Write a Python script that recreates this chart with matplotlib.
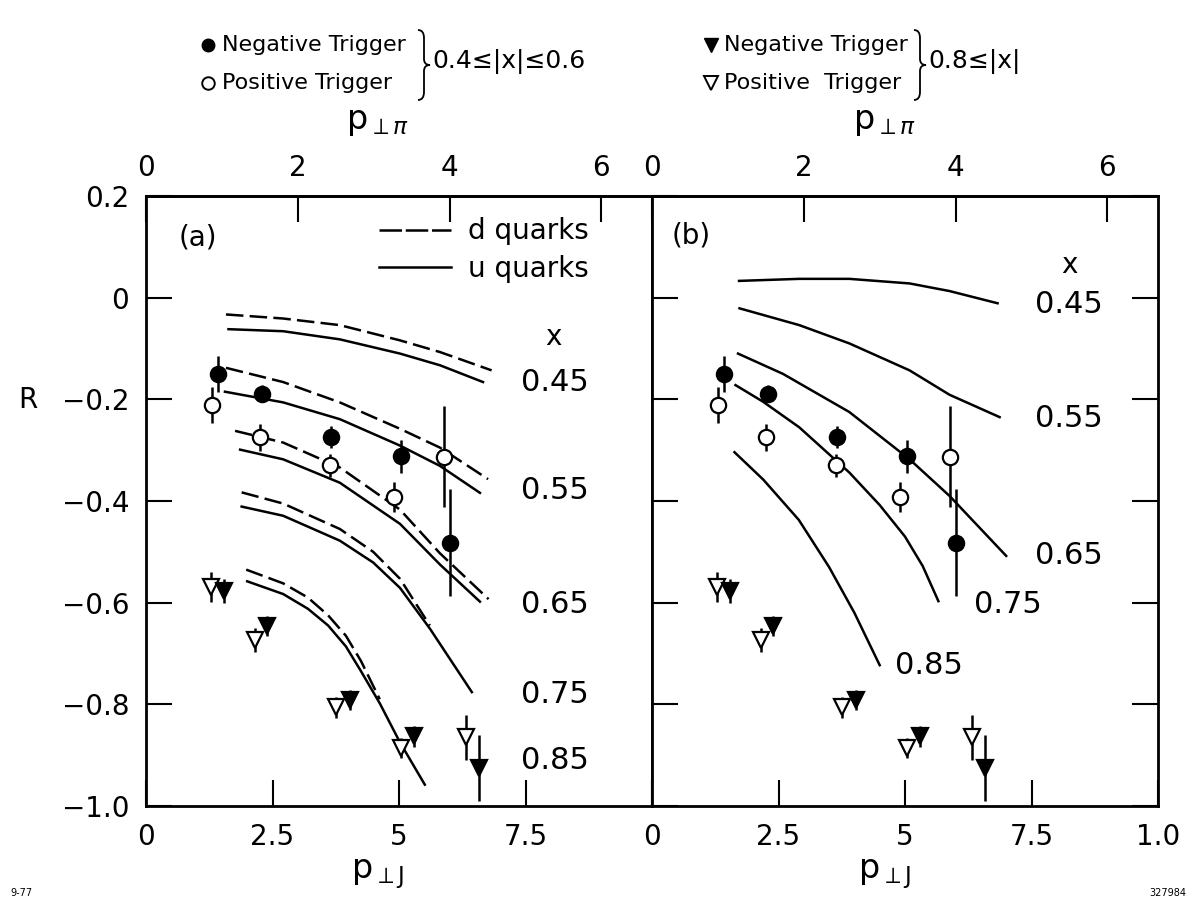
import matplotlib
matplotlib.use('Agg')
import matplotlib.pyplot as plt
from matplotlib.lines import Line2D
from matplotlib.path import Path
from matplotlib.patches import PathPatch
from matplotlib.ticker import FixedLocator, FixedFormatter

plt.rcParams['font.family'] = ['DejaVu Sans']
plt.rcParams['mathtext.fontset'] = 'dejavusans'

# ---------------- data ----------------
# 0.4 <= |x| <= 0.6
neg_mid_x = [1.43, 2.30, 3.66, 5.03, 6.00]
neg_mid_R = [-0.150, -0.189, -0.274, -0.312, -0.482]
neg_mid_err = [0.036, 0.017, 0.021, 0.032, 0.105]
pos_mid_x = [1.30, 2.26, 3.64, 4.91, 5.89]
pos_mid_R = [-0.211, -0.275, -0.330, -0.392, -0.313]
pos_mid_err = [0.035, 0.026, 0.022, 0.030, 0.099]
# 0.8 <= |x|
neg_high_x = [1.54, 2.40, 4.04, 5.29, 6.59]
neg_high_R = [-0.577, -0.646, -0.791, -0.863, -0.925]
neg_high_err = [0.023, 0.020, 0.020, 0.020, 0.065]
pos_high_x = [1.29, 2.16, 3.75, 5.03, 6.33]
pos_high_R = [-0.569, -0.673, -0.806, -0.886, -0.865]
pos_high_err = [0.030, 0.024, 0.020, 0.020, 0.045]

# panel (a) model curves
a_d045_x = [1.58, 2.71, 3.83, 5.02, 5.81, 6.83]
a_d045_y = [-0.033, -0.041, -0.054, -0.084, -0.107, -0.143]
a_u045_x = [1.63, 2.71, 3.83, 5.02, 5.81, 6.66]
a_u045_y = [-0.062, -0.066, -0.082, -0.110, -0.133, -0.166]
a_d055_x = [1.58, 2.71, 3.83, 5.02, 5.81, 6.76]
a_d055_y = [-0.138, -0.166, -0.206, -0.258, -0.295, -0.357]
a_u055_x = [1.56, 2.71, 3.83, 5.02, 5.81, 6.60]
a_u055_y = [-0.185, -0.206, -0.239, -0.291, -0.331, -0.384]
a_d065_x = [1.76, 2.71, 3.83, 5.02, 5.81, 6.77]
a_d065_y = [-0.262, -0.285, -0.334, -0.417, -0.503, -0.593]
a_u065_x = [1.86, 2.71, 3.83, 5.02, 5.81, 6.60]
a_u065_y = [-0.299, -0.318, -0.364, -0.445, -0.525, -0.598]
a_d075_x = [1.89, 2.71, 3.83, 4.49, 5.02, 5.61]
a_d075_y = [-0.383, -0.405, -0.455, -0.500, -0.553, -0.645]
a_u075_x = [1.89, 2.71, 3.83, 4.49, 5.02, 5.61, 6.44]
a_u075_y = [-0.411, -0.429, -0.478, -0.521, -0.571, -0.651, -0.776]
a_d085_x = [1.98, 2.71, 3.20, 3.60, 3.95, 4.25, 4.62]
a_d085_y = [-0.535, -0.562, -0.590, -0.625, -0.665, -0.715, -0.790]
a_u085_x = [2.00, 2.71, 3.20, 3.60, 3.95, 4.25, 4.62, 5.02, 5.51]
a_u085_y = [-0.558, -0.583, -0.612, -0.645, -0.686, -0.735, -0.798, -0.875, -0.958]

# panel (b) model curves
b_045_x = [1.72, 2.91, 3.90, 5.09, 5.88, 6.83]
b_045_y = [0.033, 0.037, 0.037, 0.028, 0.013, -0.011]
b_055_x = [1.73, 2.91, 3.90, 5.09, 5.88, 6.87]
b_055_y = [-0.021, -0.054, -0.090, -0.143, -0.191, -0.235]
b_065_x = [1.70, 2.59, 3.90, 5.09, 5.88, 7.00]
b_065_y = [-0.110, -0.150, -0.225, -0.318, -0.390, -0.508]
b_075_x = [1.65, 2.20, 2.91, 3.90, 4.50, 5.00, 5.35, 5.66]
b_075_y = [-0.172, -0.205, -0.255, -0.344, -0.408, -0.470, -0.528, -0.597]
b_085_x = [1.63, 2.20, 2.90, 3.50, 4.00, 4.50]
b_085_y = [-0.304, -0.358, -0.437, -0.530, -0.620, -0.723]

x_values = ['0.45', '0.55', '0.65', '0.75', '0.85']
R_ticks = [0.2, 0.0, -0.2, -0.4, -0.6, -0.8, -1.0]
R_ticklabels = ['0.2', '0', '\u22120.2', '\u22120.4', '\u22120.6', '\u22120.8', '\u22121.0']
pJ_ticks = [0, 2.5, 5, 7.5, 10]
pJ_labels_a = ['0', '2.5', '5', '7.5', '']
pJ_labels_b = ['0', '2.5', '5', '7.5', '1.0']
ppi_ticks = [0, 2, 4, 6]

# ---------------- figure ----------------
W, H = 1191, 910
fig = plt.figure(figsize=(W / 100, H / 100), dpi=100)

def fx(px):
    return px / W

def fy(py):
    return 1 - py / H

ax_a = fig.add_axes([fx(146), fy(806), (652 - 146) / W, (806 - 196) / H])
ax_b = fig.add_axes([fx(652), fy(806), (1158 - 652) / W, (806 - 196) / H])

LW = 1.8
dash = (7, 2.5)

def style_axis(ax, xlabels, show_ylabels):
    ax.set_xlim(0, 10)
    ax.set_ylim(-1.0, 0.2)
    for s in ax.spines.values():
        s.set_linewidth(2.0)
    ax.xaxis.set_major_locator(FixedLocator(pJ_ticks))
    ax.xaxis.set_major_formatter(FixedFormatter(xlabels))
    ax.yaxis.set_major_locator(FixedLocator(R_ticks))
    if show_ylabels:
        ax.yaxis.set_major_formatter(FixedFormatter(R_ticklabels))
        ax.tick_params(axis='y', left=True, right=False, labelleft=True)
    else:
        ax.tick_params(axis='y', left=True, right=True, labelleft=False)
    ax.tick_params(axis='both', direction='in', length=19, width=1.5,
                   labelsize=20)
    ax.tick_params(axis='x', pad=12)
    ax.tick_params(axis='y', pad=12)
    sec = ax.secondary_xaxis('top', functions=(lambda v: v * 2.0 / 3.0,
                                               lambda v: v * 1.5))
    sec.set_xticks(ppi_ticks)
    sec.set_xticklabels([str(t) for t in ppi_ticks])
    sec.tick_params(direction='in', length=19, width=1.5, labelsize=20, pad=10)
    sec.spines['top'].set_linewidth(2.0)

style_axis(ax_a, pJ_labels_a, True)
style_axis(ax_b, pJ_labels_b, False)


def draw_data(ax):
    kw = dict(linestyle='none', ecolor='black', elinewidth=1.8, capsize=0,
              mec='black', mew=1.6)
    ax.errorbar(neg_mid_x, neg_mid_R, yerr=neg_mid_err, marker='o', ms=11,
                mfc='black', zorder=5, **kw)
    ax.errorbar(pos_mid_x, pos_mid_R, yerr=pos_mid_err, marker='o', ms=11,
                mfc='white', zorder=5, **kw)
    ax.errorbar(pos_high_x, pos_high_R, yerr=pos_high_err, marker='v', ms=12,
                mfc='white', zorder=5, **kw)
    ax.errorbar(neg_high_x, neg_high_R, yerr=neg_high_err, marker='v', ms=12,
                mfc='black', zorder=6, **kw)

# panel (a)
for xs, ys in [(a_d045_x, a_d045_y), (a_d055_x, a_d055_y), (a_d065_x, a_d065_y),
               (a_d075_x, a_d075_y), (a_d085_x, a_d085_y)]:
    ax_a.plot(xs, ys, color='black', lw=LW, dashes=dash)
for xs, ys in [(a_u045_x, a_u045_y), (a_u055_x, a_u055_y), (a_u065_x, a_u065_y),
               (a_u075_x, a_u075_y), (a_u085_x, a_u085_y)]:
    ax_a.plot(xs, ys, color='black', lw=LW)
draw_data(ax_a)

hd = Line2D([], [], color='black', lw=LW, dashes=(9, 1.5))
hu = Line2D([], [], color='black', lw=LW)
leg = ax_a.legend([hd, hu], ['d quarks', 'u quarks'], loc='upper left',
                  bbox_to_anchor=(0.46, 0.965), frameon=False, fontsize=20,
                  handlelength=2.6, handletextpad=0.6, labelspacing=0.35,
                  borderpad=0, borderaxespad=0)

ax_a.text(1.03, 0.119, '(a)', fontsize=20, ha='center', va='center')
ax_a.text(8.05, -0.077, 'x', fontsize=20, ha='center', va='center')
a_label_y = [-0.166, -0.380, -0.603, -0.781, -0.911]
for lab, yy in zip(x_values, a_label_y):
    ax_a.text(8.08, yy, lab, fontsize=22, ha='center', va='center')

# panel (b)
for xs, ys in [(b_045_x, b_045_y), (b_055_x, b_055_y), (b_065_x, b_065_y),
               (b_075_x, b_075_y), (b_085_x, b_085_y)]:
    ax_b.plot(xs, ys, color='black', lw=LW)
draw_data(ax_b)

ax_b.text(0.77, 0.122, '(b)', fontsize=20, ha='center', va='center')
ax_b.text(8.25, 0.064, 'x', fontsize=20, ha='center', va='center')
b_label_pos = [(8.24, -0.014), (8.24, -0.238), (8.24, -0.507), (7.04, -0.603),
               (5.48, -0.723)]
for lab, (xx, yy) in zip(x_values, b_label_pos):
    ax_b.text(xx, yy, lab, fontsize=22, ha='center', va='center')

# axis titles
fig.text(fx(28), fy(400), 'R', fontsize=20, ha='center', va='center')
for cx in (378, 885):
    fig.text(fx(cx), fy(122), r'$\mathrm{p}_{\perp\pi}$', fontsize=24,
             ha='center', va='center')
    fig.text(fx(cx), fy(874), r'$\mathrm{p}_{\perp\mathrm{J}}$', fontsize=24,
             ha='center', va='center')

fig.text(fx(10), fy(893), '9-77', fontsize=7, ha='left', va='center')
fig.text(fx(1186), fy(893), '327984', fontsize=7, ha='right', va='center')

# top legend
fig.add_artist(Line2D([fx(208)], [fy(45)], marker='o', ms=9, color='black',
                      mfc='black', transform=fig.transFigure))
fig.add_artist(Line2D([fx(208)], [fy(83)], marker='o', ms=9, color='black',
                      mfc='white', mew=1.4, transform=fig.transFigure))
fig.add_artist(Line2D([fx(711)], [fy(45)], marker='v', ms=10, color='black',
                      mfc='black', transform=fig.transFigure))
fig.add_artist(Line2D([fx(711)], [fy(83)], marker='v', ms=10, color='black',
                      mfc='white', mew=1.4, transform=fig.transFigure))
LEGFS = 16
fig.text(fx(222), fy(45), 'Negative Trigger', fontsize=LEGFS, va='center', ha='left')
fig.text(fx(222), fy(83), 'Positive Trigger', fontsize=LEGFS, va='center', ha='left')
fig.text(fx(724), fy(45), 'Negative Trigger', fontsize=LEGFS, va='center', ha='left')
fig.text(fx(724), fy(83), 'Positive  Trigger', fontsize=LEGFS, va='center', ha='left')
fig.text(fx(432), fy(61), '0.4\u2264|x|\u22640.6', fontsize=18, va='center', ha='left')
fig.text(fx(928), fy(61), '0.8\u2264|x|', fontsize=18, va='center', ha='left')


def brace(x0, x1, ytop, ybot):
    ym = (ytop + ybot) / 2.0
    xm = (x0 + x1) / 2.0
    pts = [(x0, ytop), (xm, ytop), (xm, ytop + 8), (xm, ym - 6), (xm, ym),
           (x1, ym), (xm, ym), (xm, ym + 6), (xm, ybot - 8), (xm, ybot),
           (x0, ybot)]
    codes = [Path.MOVETO, Path.CURVE3, Path.CURVE3, Path.LINETO, Path.CURVE3,
             Path.CURVE3, Path.CURVE3, Path.CURVE3, Path.LINETO, Path.CURVE3,
             Path.CURVE3]
    verts = [(fx(a), fy(b)) for a, b in pts]
    fig.add_artist(PathPatch(Path(verts, codes), fill=False, lw=1.3,
                             edgecolor='black', transform=fig.transFigure))

brace(418, 430, 30, 100)
brace(914, 926, 30, 100)

fig.savefig('out.png', dpi=100)
